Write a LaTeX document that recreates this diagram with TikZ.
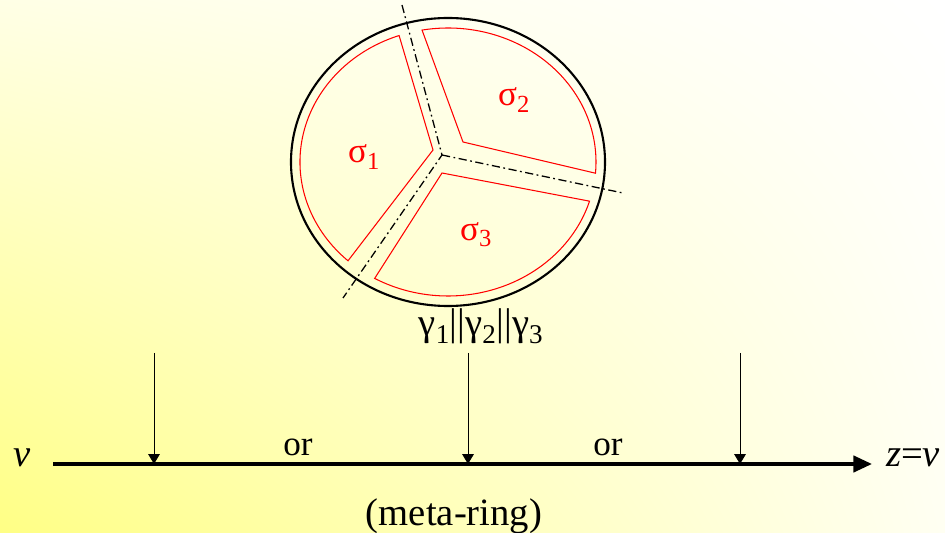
\documentclass[tikz,border=0pt]{standalone}
\usepackage{fontspec}
\setmainfont{Liberation Serif}
\usetikzlibrary{arrows.meta,calc,shadings}

\begin{document}
\begin{tikzpicture}[
    x=0.03cm, y=0.03cm,
    ring/.style={draw=black, line width=1.8pt},
    part/.style={draw=red, line width=0.9pt},
    cut/.style={line width=1.1pt, dash pattern=on 7pt off 3pt on 1.5pt off 3pt},
    lbl/.style={font=\fontsize{30}{34}\selectfont, inner sep=0pt},
    big/.style={font=\fontsize{33}{38}\selectfont, inner sep=0pt},
    feed/.style={-{Triangle[length=8.5pt, width=10pt]}, line width=0.8pt},
    axis/.style={-{Triangle[length=16pt, width=14pt]}, line width=3pt}
]
% background
\shade[lower left=yellow!48, upper left=yellow!10, lower right=yellow!5, upper right=white] (0,0) rectangle (945,533);
\useasboundingbox (0,0) rectangle (945,533);

% ring and its three parts
\coordinate (c) at (448,371);
\draw[ring] (c) ellipse [x radius=157, y radius=144];
\draw[part] (433,383) -- ($(c)+(109.3:148 and 134)$) arc[start angle=109.3, end angle=227.5, x radius=148, y radius=134] -- cycle;
\draw[part] (463,391) -- ($(c)+(100.1:148 and 134)$) arc[start angle=100.1, end angle=-4.8, x radius=148, y radius=134] -- cycle;
\draw[part] (442,360) -- ($(c)+(-17:148 and 134)$) arc[start angle=-17, end angle=-119.7, x radius=148, y radius=134] -- cycle;

% cuts
\coordinate (j) at (442,378);
\coordinate (jt) at (402,528);
\coordinate (jb) at (343,235);
\coordinate (jr) at (623,340);
\draw[cut] (jt) -- (j) -- (jb);
\draw[cut] (j) -- (jr);

\node[lbl, text=red] (s1) at (364,376) {σ\textsubscript{1}};
\node[lbl, text=red] (s2) at (514,433) {σ\textsubscript{2}};
\node[lbl, text=red] (s3) at (476,298) {σ\textsubscript{3}};
\node[big] (gam) at (481,207) {γ\textsubscript{1}||γ\textsubscript{2}||γ\textsubscript{3}};

% meta-ring line
\coordinate (v0) at (53,69);
\coordinate (v1) at (872,69);
\draw[axis] (v0) -- (v1);
\foreach \name/\x in {pa/154, pb/468, pc/740} {
    \coordinate (\name top) at (\x,180);
    \coordinate (\name) at (\x,69);
    \draw[feed] (\name top) -- (\name);
}

\node[big] (vin) at (22,75) {\textit{v}};
\node[big] (vout) at (913,75) {\textit{z}=\textit{v}};
\node[lbl] (or1) at (298,86) {or};
\node[lbl] (or2) at (608,86) {or};
\node[big] (meta) at (454,17) {(meta-ring)};
\end{tikzpicture}
\end{document}
